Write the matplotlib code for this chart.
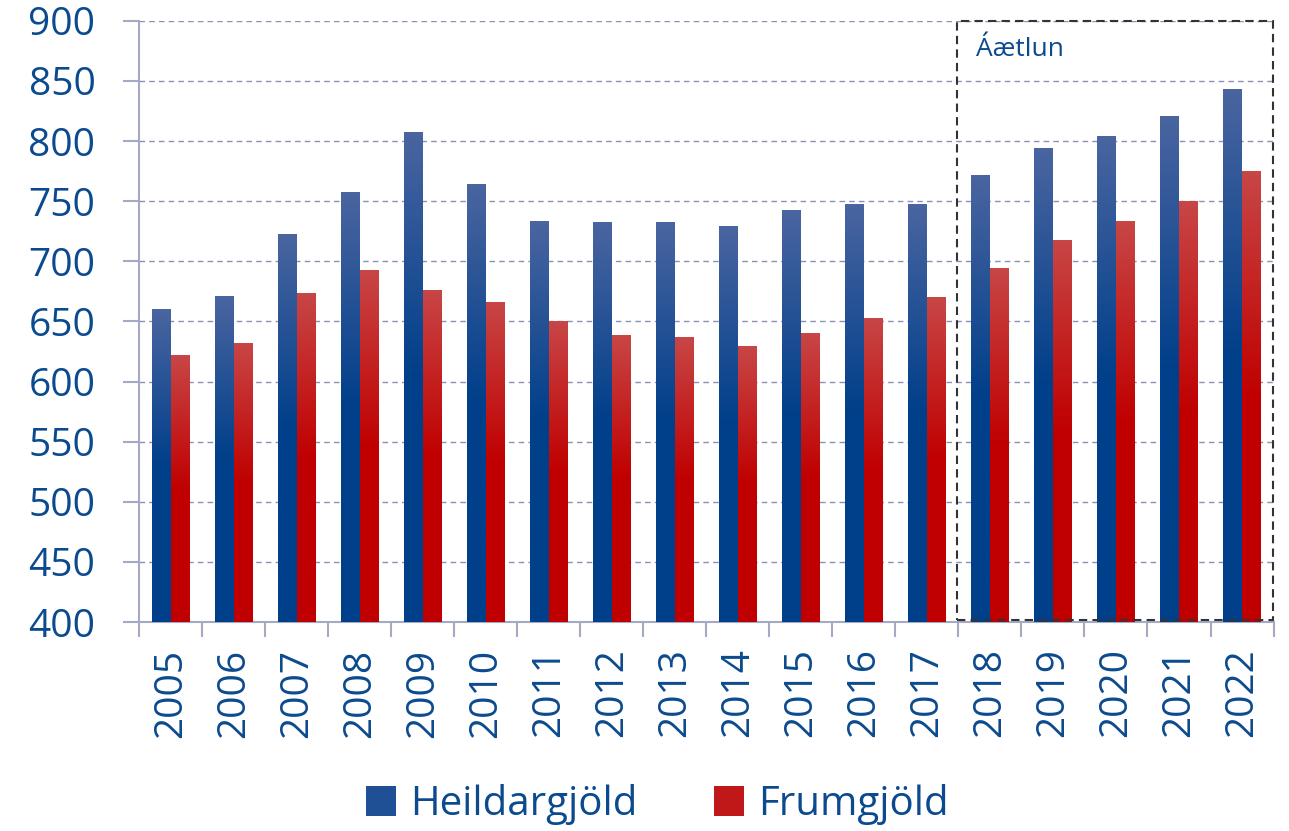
import matplotlib.pyplot as plt
import numpy as np
from matplotlib.colors import LinearSegmentedColormap
from matplotlib.patches import Rectangle, Patch

years = [str(y) for y in range(2005, 2023)]
heildar = [660, 671, 722, 757, 807, 764, 733, 732, 732, 729, 742, 747, 747, 771, 794, 804, 820, 843]
frum = [622, 632, 673, 692, 676, 666, 650, 638, 637, 629, 640, 652, 670, 694, 717, 733, 750, 775]

txt = '#0b4a8e'
plt.rcParams['font.family'] = ['Open Sans', 'DejaVu Sans']

fig = plt.figure(figsize=(12.89, 8.31), dpi=100)
ax = fig.add_axes([0.108, 0.2515, 0.88, 0.7235])

x = np.arange(len(years))
w = 0.3
blue_cm = LinearSegmentedColormap.from_list('b', ['#003f8a', '#003f8a', '#4a65a0'])
red_cm = LinearSegmentedColormap.from_list('r', ['#c00000', '#c00000', '#c84646'])
grad = np.linspace(0, 1, 256).reshape(-1, 1)

b1 = ax.bar(x - w / 2, heildar, w, color='none', zorder=3)
b2 = ax.bar(x + w / 2, frum, w, color='none', zorder=3)
for bars, cm in ((b1, blue_cm), (b2, red_cm)):
    for r in bars:
        x0 = r.get_x()
        ax.imshow(grad, extent=[x0, x0 + r.get_width(), 400, r.get_height()],
                  origin='lower', aspect='auto', cmap=cm, zorder=3)

ax.set_xlim(-0.5, len(years) - 0.5)
ax.set_ylim(400, 900)
ax.set_yticks(range(400, 901, 50))
ax.set_xticks(x)
ax.set_xticklabels(years, rotation=90)
ax.set_xticks(np.arange(-0.5, len(years)), minor=True)
ax.tick_params(axis='x', which='major', length=0, pad=19, labelsize=28, labelcolor=txt)
ax.tick_params(axis='x', which='minor', length=11, width=1.5, color='#a4aac4', direction='out')
ax.tick_params(axis='y', length=11.5, width=1.5, color='#a4aac4', labelsize=28, labelcolor=txt, pad=20)

for s in ['top', 'right']:
    ax.spines[s].set_visible(False)
for s in ['left', 'bottom']:
    ax.spines[s].set_color('#a4aac4')
    ax.spines[s].set_linewidth(1.5)
ax.grid(axis='y', linestyle=(0, (4, 3)), color='#8a92b4', linewidth=1, zorder=0)
ax.set_axisbelow(True)

box = Rectangle((12.47, 401.5), 5.02, 498.5, fill=False, edgecolor='#333333',
                linestyle=(0, (4, 2.5)), linewidth=1.5, zorder=4, clip_on=False)
ax.add_patch(box)
ax.text(12.78, 876, 'Áætlun', fontsize=19, color=txt, va='center', ha='left')

handles = [Patch(facecolor='#1f4f95', label='Heildargjöld'),
           Patch(facecolor='#c01818', label='Frumgjöld')]
fig.legend(handles=handles, loc='center', bbox_to_anchor=(0.51, 0.032), ncol=2,
           frameon=False, fontsize=29, labelcolor=txt, handlelength=0.75, handleheight=0.75,
           handletextpad=0.35, columnspacing=1.9, borderpad=0)

fig.savefig('out.png', dpi=100)
